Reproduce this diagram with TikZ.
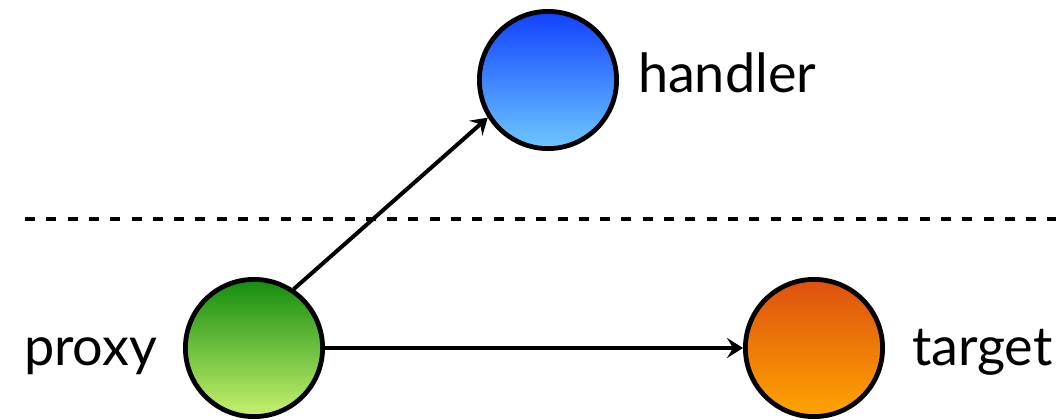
\documentclass[tikz,border=0pt]{standalone}
\usepackage{fontspec}
\setmainfont{Lato}
\usepackage{xcolor}
\usetikzlibrary{arrows.meta, positioning}

\definecolor{handlerTop}{RGB}{16,64,255}
\definecolor{handlerBot}{RGB}{110,200,255}
\definecolor{proxyTop}{RGB}{20,140,15}
\definecolor{proxyBot}{RGB}{200,242,110}
\definecolor{targetTop}{RGB}{222,80,15}
\definecolor{targetBot}{RGB}{255,165,0}

\begin{document}
\begin{tikzpicture}[x=0.5pt, y=-0.5pt, >={Stealth[length=8pt, width=10pt, inset=3pt]}, line width=2pt]
  \tikzstyle{object} = [circle, draw, line width=2.4pt, minimum size=68.6pt, inner sep=0pt]
  \tikzstyle{lbl} = [font=\fontsize{27pt}{31pt}\selectfont, inner sep=0pt, text height=18.5pt, text depth=6pt]

  \useasboundingbox (0,0) rectangle (1056,419);

  % meta level above, base level below
  \draw[dash pattern=on 5pt off 5.65pt, line width=2pt] (25,219) -- (1070,219);

  \node[object, top color=handlerTop, bottom color=handlerBot] (Handler) at (548,80) {};
  \node[object, top color=proxyTop, bottom color=proxyBot] (Proxy) at (254,348) {};
  \node[object, top color=targetTop, bottom color=targetBot] (Target) at (814,348) {};

  \node[lbl, right=8.5pt of Handler] (HandlerLbl) {handler};
  \node[lbl, left=12pt of Proxy, yshift=-2.5pt] (ProxyLbl) {proxy};
  \node[lbl, right=12.5pt of Target, yshift=-2.5pt] (TargetLbl) {target};

  \path[->]
    (Proxy.56) edge (Handler.212)
    (Proxy) edge (Target);
\end{tikzpicture}
\end{document}
